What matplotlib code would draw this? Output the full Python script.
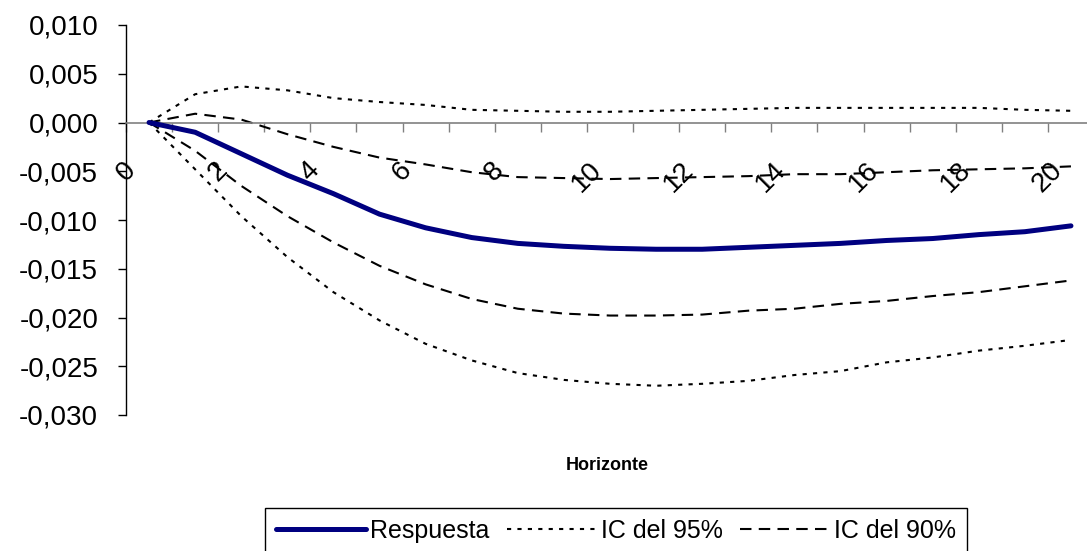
import numpy as np
import matplotlib.pyplot as plt

plt.rcParams['font.family'] = ['Liberation Sans', 'DejaVu Sans']

# horizonte 0..20
horizonte = np.arange(21)
respuesta = [0.0, -0.0010, -0.0032, -0.0054, -0.0073, -0.0094, -0.0108, -0.0118, -0.0124, -0.0127,
             -0.0129, -0.0130, -0.0130, -0.0128, -0.0126, -0.0124, -0.0121, -0.0119, -0.0115, -0.0112, -0.0106]
ic95_sup = [0.0, 0.0029, 0.0037, 0.0033, 0.0025, 0.0021, 0.0018, 0.0013, 0.0012, 0.0011,
            0.0011, 0.0012, 0.0013, 0.0014, 0.0015, 0.0015, 0.0015, 0.0015, 0.0015, 0.0013, 0.0012]
ic95_inf = [0.0, -0.0048, -0.0096, -0.0138, -0.0174, -0.0203, -0.0227, -0.0244, -0.0257, -0.0264,
            -0.0268, -0.0270, -0.0268, -0.0265, -0.0259, -0.0255, -0.0246, -0.0241, -0.0234, -0.0229, -0.0223]
ic90_sup = [0.0, 0.0009, 0.0003, -0.0012, -0.0025, -0.0036, -0.0043, -0.0051, -0.0056, -0.0057,
            -0.0058, -0.0057, -0.0056, -0.0055, -0.0053, -0.0053, -0.0051, -0.0049, -0.0048, -0.0047, -0.0045]
ic90_inf = [0.0, -0.0029, -0.0065, -0.0096, -0.0123, -0.0147, -0.0166, -0.0181, -0.0191, -0.0196,
            -0.0198, -0.0198, -0.0197, -0.0193, -0.0191, -0.0186, -0.0183, -0.0178, -0.0174, -0.0168, -0.0162]

ytick_vals = [0.010, 0.005, 0.0, -0.005, -0.010, -0.015, -0.020, -0.025, -0.030]
ytick_labels = ["0,010", "0,005", "0,000", "-0,005", "-0,010", "-0,015", "-0,020", "-0,025", "-0,030"]
xtick_pos = np.arange(-0.5, 21, 1)
xtick_labels = [str(k) if k % 2 == 0 else "" for k in range(len(xtick_pos))]

fig = plt.figure(figsize=(10.87, 5.51), dpi=100)
ax = fig.add_axes([126/1087, 136/551, 968/1087, 390/551])

dot = (0, (2, 3))
dash = (0, (5.5, 3.5))
l1, = ax.plot(horizonte, respuesta, color='#000080', lw=3.6,
              solid_capstyle='round', solid_joinstyle='round', zorder=5)
l2, = ax.plot(horizonte, ic95_sup, color='black', lw=1.5, linestyle=dot)
ax.plot(horizonte, ic95_inf, color='black', lw=1.5, linestyle=dot)
l3, = ax.plot(horizonte, ic90_sup, color='black', lw=1.5, linestyle=dash)
ax.plot(horizonte, ic90_inf, color='black', lw=1.5, linestyle=dash)

ax.set_xlim(-0.5, 20.5)
ax.set_ylim(-0.030, 0.010)
ax.spines['top'].set_visible(False)
ax.spines['right'].set_visible(False)
ax.spines['bottom'].set_position(('data', 0))
ax.spines['bottom'].set_color('#808080')
ax.spines['bottom'].set_linewidth(1.2)
ax.spines['left'].set_linewidth(1.0)

ax.set_yticks(ytick_vals)
ax.set_yticklabels(ytick_labels)
ax.set_xticks(xtick_pos)
ax.set_xticklabels(xtick_labels)
ax.tick_params(axis='x', direction='out', length=6.5, width=1, color='#808080',
               pad=18, labelsize=20, labelrotation=45)
ax.tick_params(axis='y', direction='out', length=6, width=1, pad=14, labelsize=20)

fig.text(607/1087, 1 - 465/551, 'Horizonte', fontsize=13, fontweight='bold',
         ha='center', va='center')

leg = fig.legend([l1, l2, l3], ['Respuesta', 'IC del 95%', 'IC del 90%'],
                 loc='center', bbox_to_anchor=(616/1087, 1 - 531/551), ncol=3,
                 frameon=True, fancybox=False, edgecolor='black', framealpha=1,
                 handlelength=3.6, handletextpad=0.15, columnspacing=0.7,
                 borderpad=0.45, borderaxespad=0,
                 prop={'size': 18})
leg.get_frame().set_linewidth(1.0)

fig.savefig('out.png', dpi=100)
